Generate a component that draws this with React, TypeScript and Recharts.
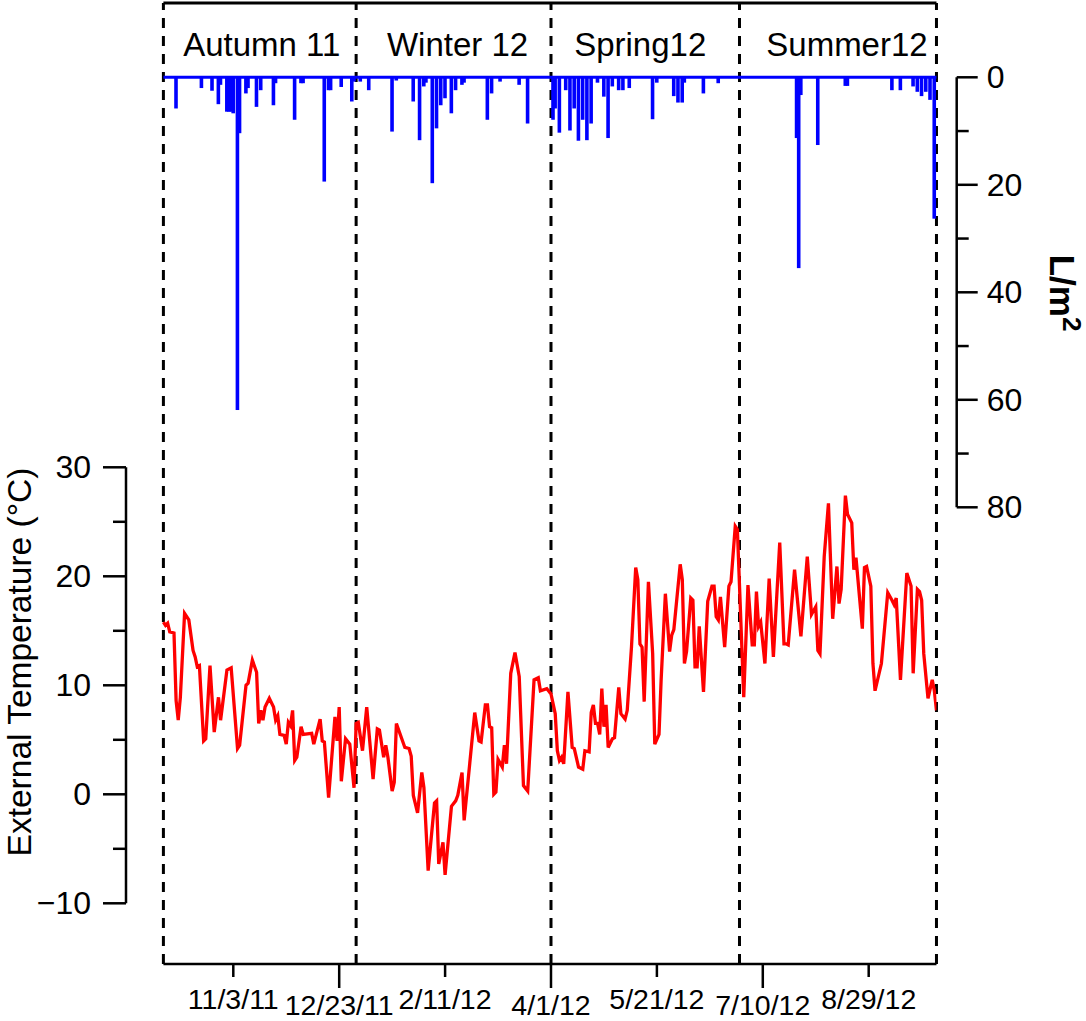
import React from 'react';
import { ComposedChart, Line, Bar, XAxis, YAxis, ReferenceLine, ReferenceArea } from 'recharts';

// ---------------- data ----------------
const START = Date.UTC(2011, 9, 1); // day 0 = 1 Oct 2011
const DAY_MS = 86400000;

const tickDates = ['11/3/11', '12/23/11', '2/11/12', '4/1/12', '5/21/12', '7/10/12', '8/29/12'];
const seasonNames = ['Autumn 11', 'Winter 12', 'Spring12', 'Summer12'];
const seasonBounds = ['10/1/11', '12/31/11', '4/1/12', '6/29/12', '9/30/12'];
const tempTicks = [-10, -5, 0, 5, 10, 15, 20, 25, 30];
const rainTicks = [0, 10, 20, 30, 40, 50, 60, 70, 80];

// daily external temperature (°C), day = days since 1 Oct 2011
const tempDays = [
  0, 1, 2, 3, 5, 6, 7, 8, 10, 12, 14, 15, 16, 17, 19, 20, 22, 24, 26, 27,
  30, 32, 35, 36, 39, 40, 42, 44, 45, 46, 47, 48, 50, 52, 53, 54, 55, 57, 58, 59,
  60, 61, 62, 63, 65, 66, 70, 71, 74, 75, 76, 78, 81, 82, 83, 84, 86, 88, 90, 91,
  92, 94, 96, 99, 101, 102, 104, 105, 106, 108, 109, 110, 112, 114, 116, 117, 118, 120, 122, 123,
  125, 128, 129, 130, 132, 133, 136, 138, 139, 141, 142, 147, 149, 150, 152, 153, 154, 155, 156, 157,
  158, 160, 161, 162, 164, 166, 168, 170, 172, 175, 177, 178, 181, 183, 185, 186, 187, 188, 189, 191,
  193, 194, 196, 198, 199, 201, 202, 203, 204, 205, 206, 207, 208, 209, 210, 212, 213, 215, 216, 218,
  219, 221, 223, 224, 225, 226, 227, 229, 231, 232, 234, 235, 237, 239, 240, 241, 244, 245, 246, 247,
  249, 250, 251, 252, 253, 255, 257, 259, 260, 261, 262, 263, 265, 267, 268, 270, 271, 274, 276, 278,
  279, 280, 281, 282, 284, 286, 288, 291, 293, 294, 295, 298, 301, 304, 306, 308, 309, 310, 312, 314,
  316, 318, 319, 320, 322, 323, 325, 326, 327, 330, 331, 332, 334, 335, 336, 339, 342, 344, 345, 346,
  348, 351, 353, 354, 356, 357, 358, 359, 361, 363, 364, 365,
];
const tempValues = [
  15.8, 15.5, 15.7, 14.9, 14.8, 8.6, 6.8, 8.9, 16.6, 16.0, 13.2, 12.6, 11.7, 11.8, 4.9, 5.1, 11.8, 5.7, 8.9, 6.8,
  11.4, 11.6, 4.2, 4.5, 10.0, 10.2, 12.3, 11.2, 6.5, 7.7, 6.8, 8.0, 8.8, 8.0, 6.8, 7.2, 5.5, 5.4, 4.6, 6.6,
  6.3, 7.7, 3.1, 3.4, 6.2, 5.5, 5.6, 4.6, 6.9, 4.9, 4.8, -0.3, 7.1, 4.9, 8.0, 1.2, 5.1, 4.6, 0.6, 6.5,
  6.6, 4.0, 8.0, 1.4, 6.0, 5.9, 3.4, 4.5, 3.4, 0.3, 1.1, 6.5, 5.4, 4.3, 4.2, 3.5, -0.1, -1.7, 2.0, 0.6,
  -7.0, -0.8, -0.6, -6.4, -4.4, -7.4, -1.1, -0.6, -0.1, 2.0, -2.4, 7.5, 4.9, 4.8, 8.2, 8.2, 6.2, 6.1, 0.0, 0.2,
  3.2, 2.5, 4.5, 2.8, 11.1, 13.0, 10.8, 0.8, 0.3, 10.5, 10.7, 9.5, 9.7, 9.2, 7.4, 4.0, 3.1, 3.4, 2.8, 9.4,
  4.3, 4.2, 2.5, 2.3, 4.0, 3.9, 7.5, 8.2, 6.5, 6.5, 5.5, 9.7, 6.2, 8.2, 4.3, 5.1, 5.2, 9.8, 7.4, 6.9,
  7.7, 13.5, 20.8, 19.7, 13.8, 13.5, 8.5, 19.5, 12.9, 4.6, 5.5, 10.5, 18.4, 13.1, 14.6, 15.1, 21.1, 19.7, 12.0, 13.1,
  18.0, 17.8, 11.7, 11.7, 15.4, 9.4, 17.7, 19.1, 19.1, 16.3, 16.0, 18.1, 13.5, 19.1, 19.5, 24.6, 24.3, 8.9, 19.2, 13.7,
  13.7, 18.6, 15.4, 15.8, 12.0, 19.8, 12.6, 23.1, 13.8, 13.8, 13.7, 20.6, 14.5, 21.8, 16.5, 17.2, 13.2, 12.9, 21.8, 26.7,
  16.1, 20.9, 17.5, 18.8, 27.4, 25.7, 24.9, 20.6, 21.7, 15.2, 20.8, 20.9, 19.1, 12.0, 9.5, 12.0, 18.5, 17.8, 17.4, 18.0,
  10.5, 20.3, 19.1, 11.1, 18.8, 18.6, 17.8, 12.9, 8.8, 10.5, 9.5, 7.7,
];

// daily precipitation (L/m2)
const rainDays = [
  6, 18, 23, 26, 27, 30, 31, 32, 33, 35, 36, 39, 40, 44, 46, 52, 53, 62, 65, 66,
  76, 78, 79, 84, 89, 90, 93, 97, 108, 110, 118, 121, 123, 124, 127, 129, 131, 133, 136, 138,
  141, 142, 153, 155, 159, 168, 172, 184, 185, 187, 190, 192, 194, 196, 198, 200, 202, 205, 208, 210,
  212, 215, 217, 220, 231, 233, 241, 243, 245, 246, 255, 262, 299, 300, 301, 309, 322, 323, 344, 348,
  354, 356, 358, 360, 362, 364,
];
const rainValues = [
  5.8, 2.0, 2.5, 5.0, 1.4, 6.4, 6.4, 6.4, 6.7, 61.9, 10.4, 3.0, 2.0, 5.5, 2.4, 5.2, 1.1, 7.9, 1.1, 1.1,
  19.4, 2.4, 2.4, 1.8, 4.5, 0.8, 0.8, 2.4, 10.1, 0.6, 4.5, 11.7, 1.7, 1.0, 19.7, 9.5, 5.2, 3.9, 6.7, 2.4,
  1.4, 1.0, 7.9, 3.0, 0.8, 1.4, 8.6, 7.9, 5.8, 10.3, 2.4, 9.9, 5.8, 11.8, 7.9, 11.7, 8.6, 1.0, 3.6, 11.3,
  1.7, 2.4, 2.4, 2.0, 7.8, 1.0, 3.5, 4.7, 4.7, 1.0, 3.0, 1.1, 11.3, 35.5, 3.3, 12.6, 1.6, 1.6, 2.4, 2.4,
  1.7, 2.7, 3.5, 2.7, 4.2, 26.3,
];

// ---------------- helpers ----------------
const dayOf = (s: string) => {
  const [m, d, y] = s.split('/').map(Number);
  return Math.round((Date.UTC(2000 + y, m - 1, d) - START) / DAY_MS);
};
const tickDays = tickDates.map(dayOf);
const boundDays = seasonBounds.map(dayOf);
const LAST_DAY = boundDays[boundDays.length - 1];

const tempData = tempDays.map((d, i) => ({ day: d, temp: tempValues[i] }));
const rainData = rainDays.map((d, i) => ({ day: d, rain: rainValues[i] }));

// ---------------- layout ----------------
const FONT = '"Liberation Sans", Arial, Helvetica, sans-serif';
const W = 1086;
const H = 1021;
const X0 = 163.4; // pixel of day 0
const PXD = 2.118; // pixels per day
const X_END = X0 + LAST_DAY * PXD;
const AXIS_Y = 964;
const TOP_Y = 3;
const T_TOP = 467.3;
const T_BOT = 903.3;
const T_AXIS_X = 126;
const R_TOP = 77.3;
const R_BOT = 507.3;
const R_AXIS_X = 956.7;
const AXIS_W = 2.5;
const BAR_W = 3.6;
const RAIN_COLOR = '#0000ff';
const seasonLabelShift = [2, 4, -5, 9];

const layer: React.CSSProperties = { position: 'absolute', left: 0, top: 0 };

const fmtNum = (v: number) => (v < 0 ? '\u2212' + Math.abs(v) : String(v));

const renderDateTick = (p: any) => {
  const { x, y, index } = p;
  const long = index % 2 === 1;
  return (
    <g>
      <line x1={x} x2={x} y1={y} y2={y + (long ? 24 : 13)} stroke="#000" strokeWidth={AXIS_W} />
      <text x={x} y={y + (long ? 41 : 35)} textAnchor="middle" dominantBaseline="central" fontSize={28.5} fontFamily={FONT} fill="#000">
        {tickDates[index]}
      </text>
    </g>
  );
};

const renderTempTick = (p: any) => {
  const { x, y, payload } = p;
  const v = payload.value;
  const major = v % 10 === 0;
  return (
    <g>
      <line x1={x - (major ? 23 : 13)} x2={x} y1={y} y2={y} stroke="#000" strokeWidth={AXIS_W} />
      {major && (
        <text x={x - 35} y={y} textAnchor="end" dominantBaseline="central" fontSize={32} fontFamily={FONT} fill="#000">
          {fmtNum(v)}
        </text>
      )}
    </g>
  );
};

const renderRainTick = (p: any) => {
  const { x, y, payload } = p;
  const v = payload.value;
  const major = v % 20 === 0;
  return (
    <g>
      <line x1={x} x2={x + (major ? 21 : 12)} y1={y} y2={y} stroke="#000" strokeWidth={AXIS_W} />
      {major && (
        <text x={x + 30} y={y} textAnchor="start" dominantBaseline="central" fontSize={32} fontFamily={FONT} fill="#000">
          {fmtNum(v)}
        </text>
      )}
    </g>
  );
};

const renderRainBar = (p: any) => {
  const x = Number(p.x);
  const y = Number(p.y);
  const w = Number(p.width) || 0;
  const h = Number(p.height) || 0;
  if (!isFinite(x) || !isFinite(y) || h === 0) return <g />;
  const top = Math.min(y, y + h);
  const cx = x + w / 2;
  return <rect x={cx - BAR_W / 2} y={top} width={BAR_W} height={Math.abs(h)} fill={RAIN_COLOR} />;
};

const renderTempLabel = () => (
  <text x={30.5} y={662} transform="rotate(-90 30.5 662)" textAnchor="middle" fontSize={33.5} fontFamily={FONT} fill="#000">
    External Temperature (°C)
  </text>
);

const renderRainLabel = () => (
  <text x={1050} y={293} transform="rotate(90 1050 293)" textAnchor="middle" fontSize={35} fontWeight="bold" fontFamily={FONT} fill="#000">
    L/m<tspan dy={-13} fontSize={26}>2</tspan>
  </text>
);

const seasonLabel = (i: number) => (p: any) => {
  const vb = p.viewBox || {};
  const cx = (vb.x || 0) + (vb.width || 0) / 2 + seasonLabelShift[i];
  return (
    <text x={cx} y={44} textAnchor="middle" dominantBaseline="central" fontSize={33} fontFamily={FONT} fill="#000">
      {seasonNames[i]}
    </text>
  );
};

export default function App() {
  return (
    <div style={{ position: 'absolute', left: 0, top: 0, width: W, height: H, background: '#fff', fontFamily: FONT }}>
      {/* frame: x axis, season separators, season names */}
      <div style={layer}>
        <ComposedChart width={W} height={H} data={tempData} margin={{ top: TOP_Y, right: W - X_END, bottom: 0, left: X0 }}>
          <XAxis
            dataKey="day"
            type="number"
            domain={[0, LAST_DAY]}
            allowDataOverflow
            ticks={tickDays}
            interval={0}
            height={H - AXIS_Y}
            tickSize={0}
            tickMargin={0}
            tickLine={false}
            axisLine={{ stroke: '#000', strokeWidth: AXIS_W }}
            tick={renderDateTick}
          />
          <YAxis hide type="number" domain={[0, 1]} allowDataOverflow />
          <Line dataKey="temp" stroke="none" strokeOpacity={0} dot={false} activeDot={false} isAnimationActive={false} />
          {seasonNames.map((n, i) => (
            <ReferenceArea
              key={n}
              x1={boundDays[i]}
              x2={boundDays[i + 1]}
              y1={0}
              y2={1}
              fill="none"
              fillOpacity={0}
              stroke="none"
              ifOverflow="visible"
              label={seasonLabel(i)}
            />
          ))}
          <ReferenceLine y={1} stroke="#000" strokeWidth={3} ifOverflow="visible" />
          {boundDays.map((d) => (
            <ReferenceLine key={d} x={d} stroke="#000" strokeWidth={3} strokeDasharray="10 8" ifOverflow="visible" />
          ))}
        </ComposedChart>
      </div>

      {/* precipitation (inverted, right axis) */}
      <div style={layer}>
        <ComposedChart width={W} height={H} data={rainData} margin={{ top: R_TOP, right: 0, bottom: H - R_BOT, left: X0 }}>
          <XAxis hide dataKey="day" type="number" domain={[0, (R_AXIS_X - X0) / PXD]} allowDataOverflow />
          <YAxis
            orientation="right"
            type="number"
            width={W - R_AXIS_X}
            reversed
            domain={[0, 80]}
            ticks={rainTicks}
            interval={0}
            tickSize={0}
            tickMargin={0}
            tickLine={false}
            axisLine={{ stroke: '#000', strokeWidth: AXIS_W }}
            tick={renderRainTick}
            label={renderRainLabel}
          />
          <Bar dataKey="rain" fill={RAIN_COLOR} barSize={3} shape={renderRainBar} isAnimationActive={false} />
          <ReferenceLine segment={[{ x: 0, y: 0 }, { x: LAST_DAY, y: 0 }]} stroke={RAIN_COLOR} strokeWidth={3} />
        </ComposedChart>
      </div>

      {/* temperature (left axis) */}
      <div style={layer}>
        <ComposedChart width={W} height={H} data={tempData} margin={{ top: T_TOP, right: W - X_END, bottom: H - T_BOT, left: 0 }}>
          <XAxis hide dataKey="day" type="number" domain={[(T_AXIS_X - X0) / PXD, LAST_DAY]} allowDataOverflow />
          <YAxis
            type="number"
            width={T_AXIS_X}
            domain={[-10, 30]}
            ticks={tempTicks}
            interval={0}
            tickSize={0}
            tickMargin={0}
            tickLine={false}
            axisLine={{ stroke: '#000', strokeWidth: AXIS_W }}
            tick={renderTempTick}
            label={renderTempLabel}
          />
          <Line dataKey="temp" type="linear" stroke="#ff0000" strokeWidth={3.3} dot={false} isAnimationActive={false} />
        </ComposedChart>
      </div>
    </div>
  );
}
